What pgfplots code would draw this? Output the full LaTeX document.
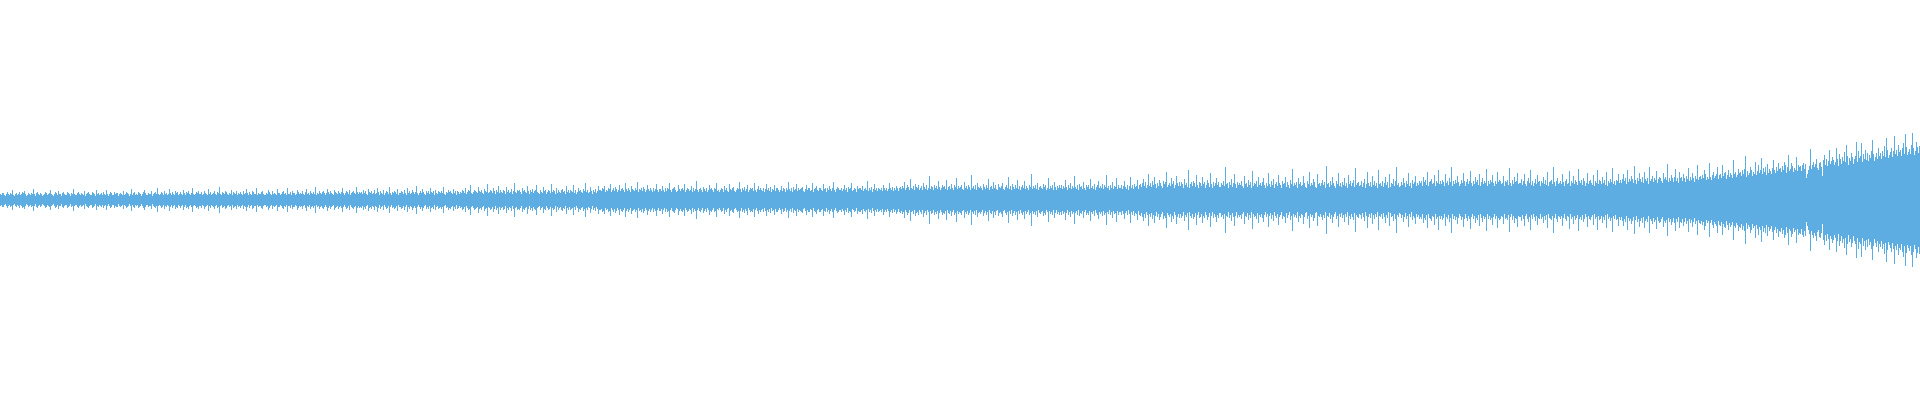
\documentclass[border=0pt]{standalone}
\usepackage{pgfplots}
\usepackage{pgfplotstable}
\pgfplotsset{compat=1.18}
\definecolor{wave}{RGB}{93,173,226}
% half-amplitude (px) of each pixel column; row r, column j -> x = 20r + j
\pgfplotstableread[header=false]{
6 5 7 7 5 4 6 8 6 5 7 6 10 5 4 6 7 5 6 8
5 6 8 7 9 6 4 5 7 6 5 7 6 11 6 4 7 8 6 5
7 6 4 5 6 8 7 5 6 7 10 6 5 4 6 8 7 5 9 6
6 4 7 8 6 5 5 8 7 6 4 7 6 11 6 5 5 7 8 6
5 7 6 5 9 4 6 7 8 6 5 5 8 7 6 4 10 6 7 5
6 7 5 8 6 5 10 6 4 6 8 7 5 5 8 6 7 7 4 6
7 6 5 9 5 6 8 7 6 4 6 11 5 7 8 5 6 5 8 7
6 4 6 8 10 7 5 5 7 6 6 9 4 6 7 8 6 12 6 5
6 8 7 5 9 6 7 5 6 11 7 5 8 6 5 9 7 8 5 6
8 6 5 10 7 5 8 7 9 6 5 7 12 6 5 6 8 7 9 6
6 8 5 6 9 7 6 5 11 6 8 5 6 7 9 6 5 8 7 13
6 5 8 7 6 9 8 6 5 7 6 10 5 8 7 6 9 5 7 6
8 6 5 9 6 7 11 7 5 8 6 5 9 8 6 6 12 5 7 6
6 8 9 6 5 5 7 6 10 8 6 5 9 6 7 6 5 11 7 7
5 6 8 9 6 7 5 12 6 6 8 5 9 7 7 5 6 10 8 6
7 6 9 6 5 8 11 6 7 5 9 7 6 8 6 13 5 7 6 9
7 6 8 9 7 5 7 11 8 6 9 7 6 5 10 8 7 6 9 7
6 8 12 7 5 7 9 8 6 10 5 7 8 9 7 6 13 8 6 8
7 8 6 10 7 9 6 5 11 8 7 9 6 7 10 6 7 12 8 5
9 7 6 10 5 7 9 8 6 13 7 5 8 7 9 8 6 11 5 7
7 9 8 6 10 7 5 12 7 9 6 7 10 8 6 8 14 7 5 7
9 7 11 8 6 5 9 7 9 6 12 8 7 9 5 10 7 6 9 8
7 9 7 13 6 5 8 7 10 8 9 7 6 11 7 9 5 9 8 6
8 7 10 9 7 12 6 8 10 9 15 7 6 8 10 9 8 7 13 9
8 10 7 6 11 9 8 16 7 8 10 9 7 12 9 6 10 8 14 7
10 8 7 10 9 6 13 8 10 7 8 11 6 9 17 8 7 10 9 10
8 6 12 9 10 8 7 14 9 6 10 8 11 7 9 10 15 8 7 6
10 8 7 13 9 10 6 8 10 9 7 16 8 10 9 6 12 7 10 8
7 10 11 8 9 6 14 8 10 7 10 9 8 15 7 10 6 8 12 9
10 8 7 11 9 17 8 10 7 8 13 9 6 10 8 11 7 9 14 10
10 9 12 11 14 8 10 9 12 11 16 8 10 12 9 13 11 8 10 15
9 11 12 10 8 17 11 9 12 10 8 14 11 10 9 12 10 18 8 11
10 12 9 13 11 8 10 15 11 9 12 10 8 12 9 11 16 10 8 11
11 9 14 10 8 12 9 12 11 17 10 8 11 12 13 10 8 9 15 11
9 11 12 10 16 8 10 12 11 9 10 14 8 12 9 11 19 10 8 11
12 10 8 13 11 9 12 8 10 15 11 12 10 8 12 11 17 9 10 8
10 12 11 8 14 10 12 9 8 16 11 10 12 13 9 8 10 12 11 18
11 8 12 10 13 9 11 15 8 10 12 11 12 9 17 10 8 11 14 10
12 10 9 12 8 11 16 10 12 9 13 8 11 10 15 9 12 12 10 8
10 14 9 12 11 8 12 10 18 11 9 12 8 13 10 11 16 9 12 10
11 12 13 9 8 11 15 10 12 12 9 10 17 8 11 12 14 10 9 12
12 10 9 16 11 12 8 12 10 14 11 9 12 18 10 8 11 13 12 10
10 12 9 11 15 10 12 8 13 11 12 17 9 10 12 11 8 14 11 12
12 10 14 9 11 12 10 19 9 12 10 13 8 11 16 10 12 9 12 11
10 12 9 15 12 10 12 9 11 17 12 10 13 9 12 10 14 12 9 12
13 11 14 12 18 10 12 15 13 10 21 12 11 14 10 16 13 12 15 10
12 14 10 17 13 11 15 10 12 24 11 14 13 10 15 12 14 11 19 13
10 12 15 13 14 11 20 10 13 14 11 16 12 10 15 13 22 11 14 12
13 15 11 10 18 12 14 11 15 13 10 25 12 14 11 15 10 17 13 12
14 12 10 16 13 11 15 12 21 10 13 14 11 18 12 15 11 10 16 13
12 14 17 11 10 13 15 12 23 11 14 10 16 13 11 15 12 20 11 14
10 13 15 12 19 11 14 12 10 15 13 26 11 14 12 15 11 17 10 13
14 12 11 16 13 15 10 12 22 11 14 12 15 10 18 13 10 14 12 15
12 15 11 14 12 20 13 10 15 12 17 11 14 12 24 13 11 15 10 16
13 14 11 18 12 10 15 13 15 11 21 12 14 11 16 10 13 15 19 12
14 12 16 11 15 13 25 12 14 10 15 12 18 11 14 13 22 11 15 12
12 15 11 14 19 13 11 15 10 14 23 12 15 11 16 13 14 20 11 15
16 13 17 21 14 18 12 15 26 14 17 13 19 15 23 16 12 17 14 20
17 14 12 19 16 18 28 13 15 17 14 22 16 19 12 15 24 17 14 18
14 18 16 12 21 15 17 13 30 12 16 18 14 19 17 13 25 15 12 18
17 14 23 16 18 12 15 20 17 13 27 16 12 18 14 17 22 15 18 13
13 17 15 19 14 33 16 17 12 18 15 21 13 17 26 16 12 18 15 17
15 19 14 12 24 16 17 13 20 15 18 12 29 14 17 16 19 13 23 15
17 14 18 22 15 12 17 14 27 16 13 19 15 21 12 16 18 14 25 17
15 12 19 16 17 23 13 18 15 12 20 16 31 14 17 15 18 12 22 16
18 14 15 24 17 13 12 19 16 28 14 17 15 21 18 13 12 26 16 17
14 17 20 15 18 12 34 16 17 13 19 15 23 17 14 12 19 16 27 14
17 13 18 15 22 14 17 12 25 16 19 14 17 20 13 32 15 17 18 14
15 19 13 17 21 12 16 28 17 14 18 13 24 15 19 14 17 12 30 16
17 14 19 13 17 23 15 18 12 26 13 17 16 21 14 19 33 15 17 13
14 18 15 22 17 13 19 16 27 14 17 12 20 16 18 24 14 17 15 19
17 19 14 23 18 20 15 28 14 18 19 21 16 17 25 14 19 17 30 16
19 16 20 18 14 26 17 19 15 22 18 33 14 19 16 20 17 24 18 14
16 20 17 27 19 14 18 21 16 19 29 17 14 19 16 23 18 20 15 26
14 18 22 16 19 17 31 14 19 16 20 18 25 17 14 19 16 28 18 20
19 16 17 24 14 19 18 20 15 32 17 14 20 16 23 18 19 27 16 17
17 21 15 19 26 16 14 19 22 17 30 15 19 14 17 21 16 25 18 19
14 19 17 23 16 20 15 28 14 18 19 20 16 33 18 14 19 22 16 17
19 16 26 18 14 19 21 16 17 29 14 19 17 24 16 20 18 15 31 19
17 20 15 22 19 14 17 27 16 19 20 17 15 25 14 19 17 30 16 20
19 16 23 17 20 15 28 14 19 17 21 18 32 16 19 15 20 19 26 17
20 17 21 26 19 22 16 30 18 21 19 24 21 17 34 20 16 22 19 27
21 18 23 17 28 21 19 22 16 33 19 21 24 18 22 20 29 17 21 23
22 19 17 27 21 23 20 36 18 22 19 25 22 18 23 31 19 22 17 28
22 23 19 26 22 18 24 21 32 19 23 20 27 22 18 24 21 35 20 23
24 21 25 22 30 26 20 23 21 37 23 20 25 28 22 24 26 33 21 25
26 22 35 24 27 28 21 25 30 23 27 25 22 40 26 28 23 25 31 27
28 24 30 26 31 44 23 29 25 27 33 30 24 28 26 38 25 29 35 27
30 42 26 32 28 33 25 36 27 31 29 26 32 40 30 27 33 29 37 31
32 28 34 30 38 35 27 33 45 29 31 37 34 28 32 30 43 29 35 33
34 29 35 37 31 36 22 26 30 34 51 31 35 38 33 36 41 32 30 37
38 33 24 40 45 35 41 34 39 50 36 39 43 40 35 38 52 41 34 46
41 36 43 39 48 38 55 44 35 42 39 47 43 36 41 44 58 38 49 42
44 57 38 46 41 50 40 47 39 45 42 49 60 46 39 43 47 41 52 44
47 41 49 44 54 43 62 50 42 45 48 52 43 49 64 46 50 44 55 48
50 44 52 57 46 66 53 45 48 51 46 55 67 52 45 49 58 53 47 54
}\wavedata
\begin{document}
\begin{tikzpicture}
\begin{axis}[
  scale only axis, width=19.2cm, height=4cm,
  xmin=0, xmax=1920, ymin=-200, ymax=200,
  enlargelimits=false, hide axis, clip=true,
]
\pgfplotsinvokeforeach{0,...,19}{
  \addplot[ycomb, mark=none, draw=wave, line width=0.12mm]
    table[x expr=20*\coordindex+#1+0.5, y index=#1]{\wavedata};
  \addplot[ycomb, mark=none, draw=wave, line width=0.12mm]
    table[x expr=20*\coordindex+#1+0.5, y expr=-\thisrowno{#1}]{\wavedata};
}
\end{axis}
\pgfresetboundingbox
\path (current axis.south west) rectangle (current axis.north east);
\end{tikzpicture}
\end{document}
